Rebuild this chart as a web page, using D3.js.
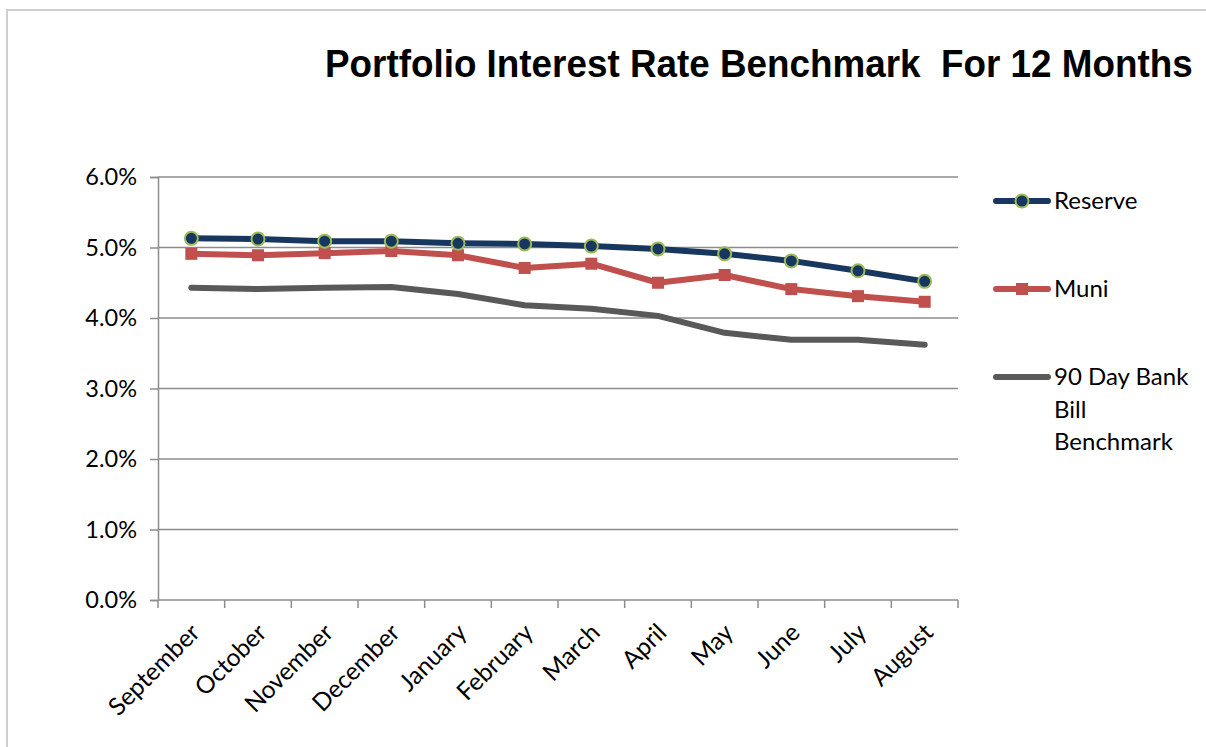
<!DOCTYPE html>
<html>
<head>
<meta charset="utf-8">
<script src="https://cdn.jsdelivr.net/npm/d3@7"></script>
<style>
body { margin: 0; background: #fff; }
svg { display: block; }
</style>
</head>
<body>
<div id="chart"></div>
<script>
var width = 1206
var height = 747

var margin = { top: 177, left: 158, right: 248, bottom: 147 }

var months = ["September", "October", "November", "December", "January", "February",
              "March", "April", "May", "June", "July", "August"]
var yTicks = [0, 0.01, 0.02, 0.03, 0.04, 0.05, 0.06]

var reserve = [5.13, 5.12, 5.09, 5.09, 5.06, 5.05, 5.02, 4.98, 4.91, 4.81, 4.67, 4.52]
var muni    = [4.91, 4.89, 4.92, 4.95, 4.89, 4.71, 4.77, 4.50, 4.61, 4.41, 4.31, 4.23]
var bank90  = [4.43, 4.41, 4.43, 4.44, 4.34, 4.18, 4.13, 4.03, 3.79, 3.69, 3.69, 3.62]

var series = [
    { name: "Reserve", values: reserve, color: "#17375E", marker: "circle", legendY: 201 },
    { name: "Muni", values: muni, color: "#C0504D", marker: "square", legendY: 289 },
    { name: "90 Day Bank Bill Benchmark", lines: ["90 Day Bank", "Bill", "Benchmark"],
      values: bank90, color: "#595959", marker: "none", legendY: 377 }
]

var svg = d3.select("#chart").append("svg").attr("width", width).attr("height", height)

// outer frame (only top + left are visible in the picture)
svg.append("path")
    .attr("d", "M7,747 L7,10 L1206,10")
    .attr("fill", "none").attr("stroke", "#cfcfcf").attr("stroke-width", 2)

// title - squeeze it a bit so it fits like the original
var title = svg.append("text")
    .attr("x", 0).attr("y", 0)
    .attr("font-family", "Liberation Sans, Arial, sans-serif")
    .attr("font-weight", "bold").attr("font-size", 37)
    .style("white-space", "pre")
    .text("Portfolio Interest Rate Benchmark  For 12 Months")
var tw = title.node().getComputedTextLength()
var sx = Math.min(1, 868 / tw)
title.attr("transform", "translate(325,77) scale(" + sx + ",1.04)")

var plotW = width - margin.left - margin.right   // 800
var plotH = height - margin.top - margin.bottom  // 423

var xScale = d3.scaleBand().domain(months).range([margin.left, margin.left + plotW])
var yScale = d3.scaleLinear().domain([0, 0.06]).range([margin.top + plotH, margin.top])

var fontLbl = "Lato, 'Open Sans', sans-serif"

// gridlines
svg.append("g").selectAll("line")
    .data(yTicks.slice(1))
    .enter().append("line")
    .attr("x1", margin.left).attr("x2", margin.left + plotW)
    .attr("y1", function(d){ return yScale(d) }).attr("y2", function(d){ return yScale(d) })
    .attr("stroke", "#8c8c8c").attr("stroke-width", 1.5)

// y axis
var yAxis = svg.append("g")
    .attr("transform", "translate(" + margin.left + ",0)")
    .call(d3.axisLeft(yScale).tickValues(yTicks).tickFormat(d3.format(".1%")).tickSizeOuter(0).tickSize(8).tickPadding(13))
yAxis.selectAll("line, path").attr("stroke", "#8c8c8c").attr("stroke-width", 1.5)
yAxis.selectAll("text").attr("font-family", fontLbl).attr("font-size", 23.5).attr("fill", "#000")

// x axis - ticks on band boundaries
var xAxisG = svg.append("g")
var xBase = yScale(0)
xAxisG.append("line")
    .attr("x1", margin.left).attr("x2", margin.left + plotW)
    .attr("y1", xBase).attr("y2", xBase)
    .attr("stroke", "#8c8c8c").attr("stroke-width", 1.5)
var bounds = months.map(function(m){ return xScale(m) }).concat([margin.left + plotW])
xAxisG.selectAll(".xt").data(bounds).enter().append("line")
    .attr("x1", function(d){ return d }).attr("x2", function(d){ return d })
    .attr("y1", xBase).attr("y2", xBase + 8)
    .attr("stroke", "#8c8c8c").attr("stroke-width", 1.5)
xAxisG.selectAll(".xl").data(months).enter().append("text")
    .attr("transform", function(d){
        var cx = xScale(d) + xScale.bandwidth() / 2
        return "translate(" + (cx + 4) + "," + (xBase + 28) + ") rotate(-45)"
    })
    .attr("text-anchor", "end")
    .attr("dy", "0.35em")
    .attr("font-family", fontLbl).attr("font-size", 24.5)
    .text(function(d){ return d })

// lines
var line = d3.line()
    .x(function(d, i){ return xScale(months[i]) + xScale.bandwidth() / 2 })
    .y(function(d){ return yScale(d / 100) })

series.slice().reverse().forEach(function(s){
    svg.append("path")
        .datum(s.values)
        .attr("d", line)
        .attr("fill", "none")
        .attr("stroke", s.color)
        .attr("stroke-width", 6)
        .attr("stroke-linejoin", "round")
        .attr("stroke-linecap", "round")

    drawMarkers(svg, s, s.values.map(function(v, i){
        return [xScale(months[i]) + xScale.bandwidth() / 2, yScale(v / 100)]
    }))
})

function drawMarkers(g, s, pts){
    if (s.marker == "circle") {
        g.append("g").selectAll("circle").data(pts).enter().append("circle")
            .attr("cx", function(d){ return d[0] }).attr("cy", function(d){ return d[1] })
            .attr("r", 6.5)
            .attr("fill", s.color).attr("stroke", "#9BBB59").attr("stroke-width", 2)
    } else if (s.marker == "square") {
        g.append("g").selectAll("rect").data(pts).enter().append("rect")
            .attr("x", function(d){ return d[0] - 6 }).attr("y", function(d){ return d[1] - 6 })
            .attr("width", 12).attr("height", 12)
            .attr("fill", s.color)
    }
}

// legend
var legend = svg.append("g")
series.forEach(function(s){
    legend.append("line")
        .attr("x1", 996).attr("x2", 1048)
        .attr("y1", s.legendY).attr("y2", s.legendY)
        .attr("stroke", s.color).attr("stroke-width", 6).attr("stroke-linecap", "round")
    drawMarkers(legend, s, [[1022, s.legendY]])
    var lines = s.lines || [s.name]
    var t = legend.append("text")
        .attr("x", 1054).attr("y", s.legendY)
        .attr("font-family", fontLbl).attr("font-size", 24)
    lines.forEach(function(l, i){
        t.append("tspan").attr("x", 1054).attr("dy", i == 0 ? "0.35em" : 32.5).text(l)
    })
})
</script>
</body>
</html>
